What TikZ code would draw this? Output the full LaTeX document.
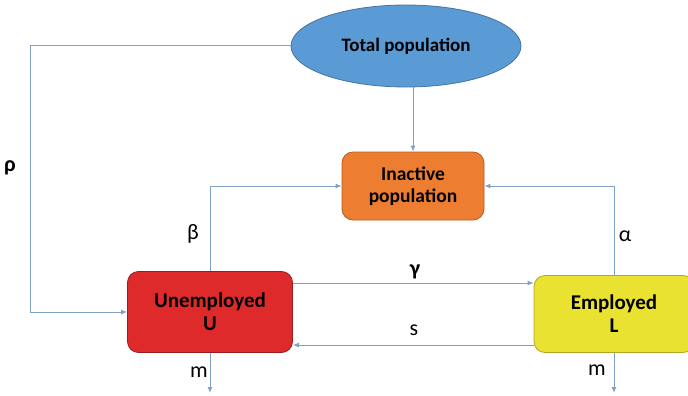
\documentclass[tikz,border=0pt]{standalone}
\usepackage{fontspec}
\setmainfont{Carlito}
\usetikzlibrary{arrows.meta,shapes.geometric}
\definecolor{flowblue}{HTML}{7FA2C4}
\definecolor{popblue}{HTML}{5B9BD5}
\definecolor{inorange}{HTML}{ED7D31}
\definecolor{unred}{HTML}{DF2A2C}
\definecolor{emyellow}{HTML}{E9E231}
\begin{document}
\begin{tikzpicture}[x=1pt,y=-1pt,
		flow/.style={draw=flowblue, line width=1pt, -{Latex[length=6pt,width=5pt]}},
		box/.style={rounded corners=11pt, line width=0.8pt, align=center, font=\bfseries\fontsize{21}{23}\selectfont, inner sep=0pt},
		lbl/.style={font=\fontsize{22}{24}\selectfont, inner sep=0pt}]
			\useasboundingbox (0,0) rectangle (688,396);
			\node [ellipse, fill=popblue, draw=popblue!75!black, line width=0.8pt, minimum width=230pt, minimum height=82pt, inner sep=0pt, font=\bfseries\fontsize{19}{21}\selectfont] (T) at (406,46) {Total population};
			\node [box, fill=inorange, draw=inorange!75!black, minimum width=142pt, minimum height=68pt, font=\bfseries\fontsize{19.5}{22}\selectfont] (I) at (413,186) {Inactive\\population};
			\node [box, fill=unred, draw=unred!70!black, minimum width=165pt, minimum height=81pt] (U) at (210,312) {Unemployed\\U};
			\node [box, fill=emyellow, draw=emyellow!75!black, minimum width=160pt, minimum height=77pt] (L) at (614,314) {Employed\\L};

			\coordinate (rhotop) at (30,46);
			\coordinate (rhobot) at (30,312);
			\coordinate (Uout) at (210,393);
			\coordinate (Lout) at (614,393);

			\draw [flow] (T.south -| I.north) -- (I.north);
			\draw [flow] (T.west) -- (rhotop) -- (rhobot) -- (U.west);
			\draw [flow] (U.north) |- (I.west);
			\draw [flow] (L.north) |- (I.east);
			\draw [flow] ([yshift=29pt]U.east) -- ([yshift=29pt]U.east -| L.west);
			\draw [flow] ([yshift=-33pt]U.east -| L.west) -- ([yshift=-33pt]U.east);
			\draw [flow] (U.south) -- (Uout);
			\draw [flow] (L.south) -- (Lout);

			\node [lbl, font=\bfseries\fontsize{22}{24}\selectfont] (rho) at (10,168) {ρ};
			\node [lbl] (beta) at (193,234) {β};
			\node [lbl] (alpha) at (625,236) {α};
			\node [lbl, font=\bfseries\fontsize{22}{24}\selectfont] (gamma) at (415,272) {γ};
			\node [lbl] (s) at (414,330) {s};
			\node [lbl] (mU) at (199,372) {m};
			\node [lbl] (mL) at (597,370) {m};
		\end{tikzpicture}
\end{document}
